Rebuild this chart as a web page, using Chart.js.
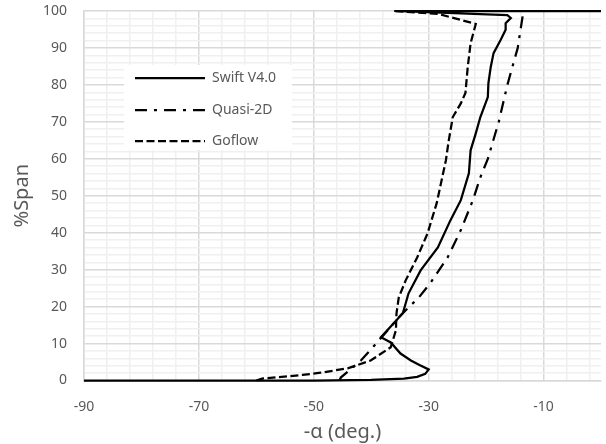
<!DOCTYPE html>
<html>
<head>
<meta charset="utf-8">
<script src="https://cdn.jsdelivr.net/npm/chart.js@4"></script>
<style>
  html, body { margin: 0; padding: 0; background: #fff; }
  #wrap { width: 606px; height: 444px; }
</style>
</head>
<body>
<div id="wrap"><canvas id="chart"></canvas></div>
<script>
// values: x = -alpha (deg.), y = %Span
var swiftX = [-90, -50, -40, -34.3, -32.0, -30.6, -30.0, -31.6, -33.1, -34.9, -36.6, -38.3, -34.5, -33.5, -31.4, -28.4, -26.2, -24.4, -23.0, -22.7, -21.8, -21.0, -19.7, -19.6, -19.2, -18.7, -17.5, -16.6, -16.6, -15.7, -16.3, -36, 0];
var swiftY = [0, 0, 0.15, 0.5, 1.0, 1.8, 3.0, 4.2, 5.4, 7.3, 10.3, 11.7, 18.2, 23.6, 29.8, 36.0, 43.4, 48.8, 56.1, 62.3, 66.9, 71.3, 76.7, 80.5, 84.8, 88.6, 92.1, 94.9, 96.7, 98.1, 98.9, 100, 100];

var quasiX = [-45.5, -45.3, -41.8, -39.7, -34.9, -31.7, -29.6, -26.7, -24.4, -22.3, -21.0, -19.7, -17.8, -16.3, -14.5, -13.5];
var quasiY = [0, 0.8, 5.4, 9.0, 17.6, 22.5, 26.6, 33.3, 40.7, 48.8, 55, 60, 70, 80, 90, 100];

var goflowX = [-60, -59, -52, -48.8, -44.1, -40.1, -36.6, -35.7, -35.6, -35.2, -34.0, -32.0, -30.2, -28.6, -27.0, -26.5, -25.8, -24.4, -23.6, -23.2, -22.7, -21.8, -28.3, -36];
var goflowY = [0, 0.5, 1.5, 2.1, 3.3, 5.4, 9.0, 13.6, 18.2, 22.5, 27.1, 33.3, 39.8, 48.0, 59.6, 65.0, 71.3, 75.0, 77.8, 84.8, 91.3, 96.5, 99.2, 100];

var seriesNames = ["Swift V4.0", "Quasi-2D", "Goflow"];
var xTickLabels = [-90, -70, -50, -30, -10];
var yTickLabels = [0, 10, 20, 30, 40, 50, 60, 70, 80, 90, 100];

var textColor = "#595959";
var fontFam = "'Noto Sans', 'Open Sans', sans-serif";

function pts(xs, ys) { return xs.map((x, i) => ({x: x, y: ys[i]})); }

// legend box drawn inside the plot, like the spreadsheet one
var boxLegend = {
    id: "boxLegend",
    afterDatasetsDraw: function (chart) {
        var ctx = chart.ctx;
        ctx.save();
        ctx.fillStyle = "#fff";
        ctx.fillRect(124, 65, 168, 85);
        var rows = [78, 110, 141];
        chart.data.datasets.forEach(function (ds, i) {
            ctx.strokeStyle = ds.borderColor;
            ctx.lineWidth = ds.borderWidth;
            ctx.setLineDash(ds.borderDash || []);
            ctx.beginPath();
            ctx.moveTo(135, rows[i]);
            ctx.lineTo(205, rows[i]);
            ctx.stroke();
            ctx.setLineDash([]);
            ctx.fillStyle = textColor;
            ctx.font = "14px " + fontFam;
            ctx.textBaseline = "middle";
            ctx.fillText(ds.label, 212, rows[i]);
        });
        ctx.restore();
    }
};

var xTicks = [];
for (var v = -90; v < 0; v += 4) xTicks.push(v);
xTicks.push(0);
var yTicks = [];
for (var w = 0; w <= 100; w += 2) yTicks.push(w);

const ctx = document.getElementById("chart");
var chart = new Chart(ctx, {
    type: "scatter",
    data: {
        datasets: [
            {label: seriesNames[0], data: pts(swiftX, swiftY), borderColor: "#000", borderWidth: 2.25, borderDash: []},
            {label: seriesNames[1], data: pts(quasiX, quasiY), borderColor: "#000", borderWidth: 2.25, borderDash: [12, 7, 3, 7]},
            {label: seriesNames[2], data: pts(goflowX, goflowY), borderColor: "#000", borderWidth: 2.25, borderDash: [8, 3.5]}
        ].map(d => Object.assign(d, {showLine: true, pointRadius: 0, fill: false, tension: 0, clip: 4}))
    },
    options: {
        responsive: true,
        maintainAspectRatio: false,
        animation: false,
        layout: {padding: {top: 11, right: 5, left: 0, bottom: 0}},
        plugins: {legend: {display: false}, tooltip: {enabled: false}},
        scales: {
            x: {
                type: "linear",
                min: -90, max: 0,
                afterBuildTicks: s => { s.ticks = xTicks.map(t => ({value: t})); },
                afterFit: s => { s.height = 63.5; s.paddingRight = 0; s.paddingLeft = 0; },
                ticks: {
                    autoSkip: false, maxRotation: 0, padding: 18,
                    color: textColor, font: {size: 14, family: fontFam},
                    callback: v => xTickLabels.includes(v) ? String(v) : ""
                },
                grid: {
                    drawTicks: false,
                    color: c => xTickLabels.includes(c.tick.value) ? "#d9d9d9" : (c.tick.value === 0 ? "rgba(0,0,0,0)" : "#f0f0f0"),
                    lineWidth: 1.5
                },
                border: {color: "#d9d9d9", width: 1.5},
                title: {display: true, text: "-α (deg.)", color: textColor, font: {size: 20, family: fontFam}, padding: {top: 0, bottom: 0}}
            },
            y: {
                type: "linear",
                min: 0, max: 100,
                afterBuildTicks: s => { s.ticks = yTicks.map(t => ({value: t})); },
                afterFit: s => { s.width = 84; s.paddingTop = 0; s.paddingBottom = 0; },
                ticks: {
                    autoSkip: false, padding: 17,
                    color: textColor, font: {size: 14, family: fontFam},
                    callback: v => yTickLabels.includes(v) ? String(v) : ""
                },
                grid: {
                    drawTicks: false,
                    color: c => (c.tick.value % 10 === 0) ? "#d9d9d9" : "#f0f0f0",
                    lineWidth: 1.5
                },
                border: {color: "#d9d9d9", width: 1.5},
                title: {display: true, text: "%Span", color: textColor, font: {size: 20, family: fontFam}, padding: {top: 10, bottom: 0}}
            }
        }
    },
    plugins: [boxLegend]
});
</script>
</body>
</html>
